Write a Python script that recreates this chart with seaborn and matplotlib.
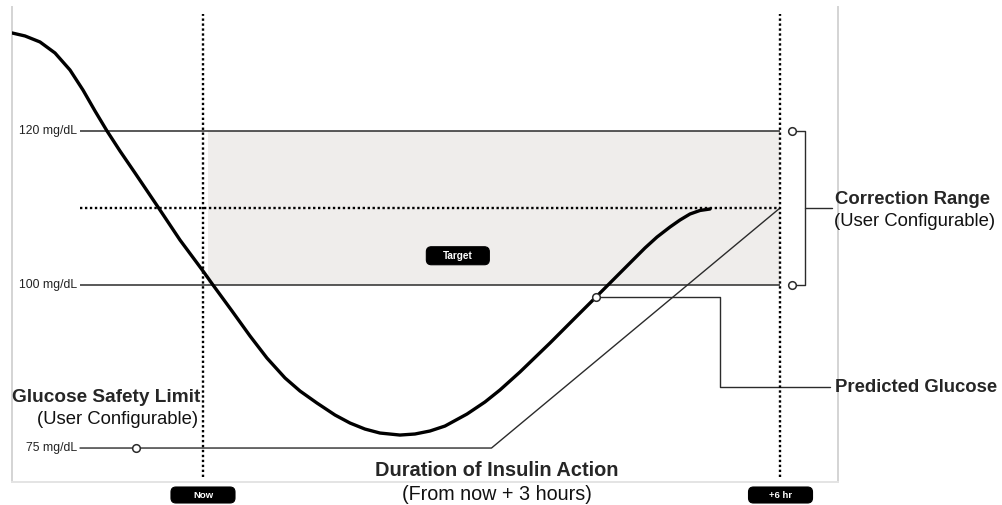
import numpy as np
import matplotlib
matplotlib.use("Agg")
import matplotlib.pyplot as plt
from matplotlib.patches import FancyBboxPatch
from matplotlib.transforms import IdentityTransform
import seaborn as sns

# Glucose trace: hours from now vs. glucose (mg/dL)
hours = [-1.986, -1.851, -1.695, -1.539, -1.383, -1.248, -1.123, -0.998, -0.863,
         -0.707, -0.468, -0.239, 0.0, 0.104, 0.302, 0.489, 0.665, 0.853, 1.009,
         1.185, 1.373, 1.529, 1.684, 1.840, 2.048, 2.204, 2.360, 2.516, 2.745,
         2.932, 3.088, 3.296, 3.608, 3.868, 4.087, 4.284, 4.440, 4.596, 4.721,
         4.856, 4.960, 5.064, 5.168, 5.272]
glucose = [132.73, 132.34, 131.56, 130.13, 127.92, 125.32, 122.60, 120.00, 117.40,
           114.55, 110.13, 105.84, 101.82, 100.00, 96.01, 92.18, 88.80, 85.74, 83.74,
           81.90, 80.06, 78.83, 77.91, 77.30, 76.99, 77.15, 77.61, 78.37, 80.21,
           82.06, 83.90, 86.66, 91.10, 94.94, 98.16, 100.91, 102.86, 104.81, 106.23,
           107.53, 108.44, 109.22, 109.68, 109.87]

range_high = 120
range_low = 100
range_target = 110
safety_limit = 75
insulin_duration = 3.0
horizon = 6.0
predicted_time = 4.087
predicted_value = 98.16

level_labels = ["120 mg/dL", "100 mg/dL", "75 mg/dL"]
level_values = [range_high, range_low, safety_limit]

W, H = 1002, 505

sns.set_theme(style="white")
plt.rcParams["font.family"] = ["Liberation Sans", "DejaVu Sans"]

fig = plt.figure(figsize=(W / 100, H / 100), dpi=100)
ax = fig.add_axes([12 / W, 1 - 482 / H, 826 / W, 475 / H])

# Schematic (piecewise-linear) glucose scale
knots_val = np.array([40.0, 75.0, 100.0, 120.0, 160.0])
knots_pos = np.array([676.2, 448.0, 285.0, 131.0, -177.0])


def fwd(v):
    return -np.interp(v, knots_val, knots_pos)


def inv(u):
    return np.interp(-np.asarray(u), knots_pos[::-1], knots_val[::-1])


ax.set_yscale("function", functions=(fwd, inv))
ax.set_xlim(-1.986, 6.603)
ax.set_ylim(69.79, 136.1)
ax.set_xticks([])
ax.set_yticks([])
for side in ["left", "right", "bottom"]:
    ax.spines[side].set_color("#d4d4d4")
    ax.spines[side].set_linewidth(1.4)
ax.spines["bottom"].set_color("#e4e4e4")
ax.spines["top"].set_visible(False)

line_c = "#2b2b2b"
x_start = -1.279

# Target band
ax.fill_between([0.05, horizon], range_low, range_high, color="#efedeb", lw=0, zorder=0)

# Range bounds
ax.hlines([range_high, range_low], x_start, horizon, color=line_c, lw=1.1, zorder=2)
# Safety limit + insulin action ramp
ax.plot([x_start, insulin_duration, horizon], [safety_limit, safety_limit, range_target],
        color=line_c, lw=1.0, zorder=2)

# Dotted target and time markers
dot = (0, (1, 1.1))
ax.plot([x_start, horizon], [range_target, range_target], color="black", lw=1.7,
        linestyle=dot, zorder=3)
for t in [0.0, horizon]:
    ax.plot([t, t], [70.55, 135.2], color="black", lw=1.7, linestyle=dot, zorder=3)

# Glucose curve
sns.lineplot(x=hours, y=glucose, ax=ax, color="black", lw=2.4, zorder=4,
             solid_joinstyle="round", solid_capstyle="round")

# Correction range bracket
bx = 6.26
ax.plot([6.17, bx, bx, 6.17], [range_high, range_high, range_low, range_low],
        color=line_c, lw=1.0, clip_on=False, zorder=2)
ax.plot([bx, 6.54], [range_target, range_target], color=line_c, lw=1.0, clip_on=False)

# Predicted glucose leader
ax.plot([predicted_time, 5.376, 5.376, 6.52],
        [predicted_value, predicted_value, 84.4, 84.4], color=line_c, lw=1.0,
        clip_on=False, zorder=2)

# Circles
circ = dict(marker="o", ms=5.5, mfc="white", mec=line_c, mew=1.1, ls="none", zorder=6,
            clip_on=False)
ax.plot([6.125, 6.125], [range_high, range_low], **circ)
ax.plot([-0.70], [safety_limit], **circ)
ax.plot([predicted_time], [predicted_value], **circ)

# Level labels
for lab, val in zip(level_labels, level_values):
    ax.text(-1.31, val, lab, ha="right", va="center", fontsize=8.8, color="#222222")


def ftext(px, py, s, **kw):
    fig.text(px / W, 1 - py / H, s, **kw)


big = 13.3
ftext(835, 200, "Correction Range", fontsize=big, fontweight="bold", va="center")
ftext(834, 221, "(User Configurable)", fontsize=big, va="center", color="#111111")
ftext(835, 388, "Predicted Glucose", fontsize=big, fontweight="bold", va="center")
ftext(200, 397, "Glucose Safety Limit", fontsize=13.7, fontweight="bold", va="center",
      ha="right")
ftext(198, 419, "(User Configurable)", fontsize=big, va="center", ha="right",
      color="#111111")
ftext(497, 470, "Duration of Insulin Action", fontsize=14.4, fontweight="bold",
      va="center", ha="center")
ftext(497, 494, "(From now + 3 hours)", fontsize=14.2, va="center", ha="center",
      color="#111111")


def tag(cx, cy, w, h, s, fs=6.8):
    box = FancyBboxPatch((cx - w / 2, cy - h / 2), w, h,
                         boxstyle="round,pad=0,rounding_size=5",
                         fc="black", ec="black", lw=0.8, transform=IdentityTransform())
    fig.add_artist(box)
    fig.text(cx, cy - 0.5, s, transform=IdentityTransform(), ha="center", va="center",
             color="white", fontsize=fs, fontweight="bold")


fig.canvas.draw()
now_x = ax.transData.transform((0.0, 100.0))[0]
end_x = ax.transData.transform((horizon, 100.0))[0]
tag(now_x, H - 495, 64, 16, "Now")
tag(end_x + 0.5, H - 495, 64, 16, "+6 hr")
tx, ty = ax.transData.transform((2.65, 103.8))
tag(tx, ty, 63, 18, "Target", fs=7.2)

fig.savefig("out.png", dpi=100)
